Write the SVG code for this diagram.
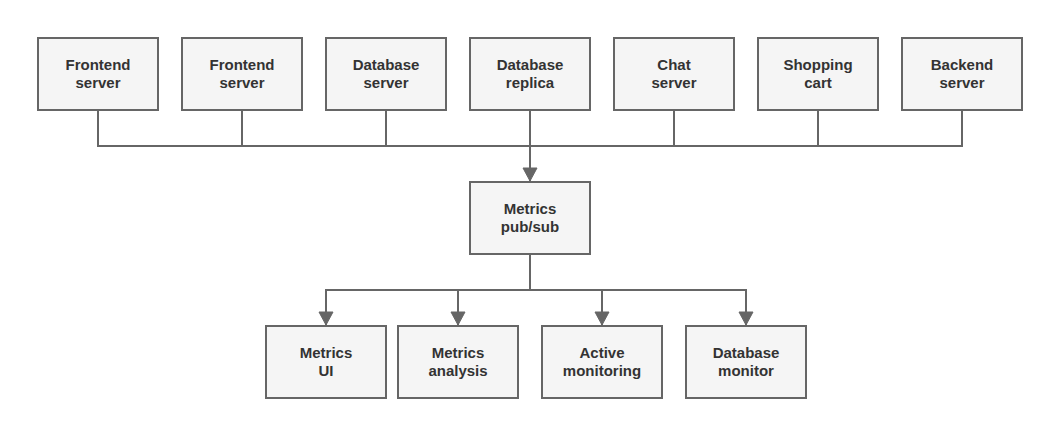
<svg xmlns="http://www.w3.org/2000/svg" width="1059" height="435" viewBox="0 0 1059 435">
<style>
.box{fill:#f5f5f5;stroke:#666666;stroke-width:2}
.lbl{font-family:"Liberation Sans",Arial,sans-serif;font-size:15px;font-weight:bold;fill:#333333;text-anchor:middle}
.conn{fill:none;stroke:#666666;stroke-width:2}
</style>
<defs>
<marker id="arr" markerUnits="userSpaceOnUse" markerWidth="16" markerHeight="16" viewBox="0 0 16 16" refX="15" refY="8" orient="auto">
<path d="M2,1 L15,8 L2,15 Z" fill="#666666" stroke="#666666" stroke-width="1"/>
</marker>
</defs>
<rect width="1059" height="435" fill="#ffffff"/>
<g id="connectors">
<path class="conn" d="M98,110 V146 H962 V110"/>
<path class="conn" d="M242,110 V146"/>
<path class="conn" d="M386,110 V146"/>
<path class="conn" d="M674,110 V146"/>
<path class="conn" d="M818,110 V146"/>
<path class="conn" d="M530,110 V181" marker-end="url(#arr)"/>
<path class="conn" d="M530,254 V290 H326 V325" marker-end="url(#arr)"/>
<path class="conn" d="M530,290 H746 V325" marker-end="url(#arr)"/>
<path class="conn" d="M458,290 V325" marker-end="url(#arr)"/>
<path class="conn" d="M602,290 V325" marker-end="url(#arr)"/>
</g>
<g id="n1"><rect class="box" x="38" y="38" width="120" height="72"/><text class="lbl" x="98" y="70">Frontend</text><text class="lbl" x="98" y="88">server</text></g>
<g id="n2"><rect class="box" x="182" y="38" width="120" height="72"/><text class="lbl" x="242" y="70">Frontend</text><text class="lbl" x="242" y="88">server</text></g>
<g id="n3"><rect class="box" x="326" y="38" width="120" height="72"/><text class="lbl" x="386" y="70">Database</text><text class="lbl" x="386" y="88">server</text></g>
<g id="n4"><rect class="box" x="470" y="38" width="120" height="72"/><text class="lbl" x="530" y="70">Database</text><text class="lbl" x="530" y="88">replica</text></g>
<g id="n5"><rect class="box" x="614" y="38" width="120" height="72"/><text class="lbl" x="674" y="70">Chat</text><text class="lbl" x="674" y="88">server</text></g>
<g id="n6"><rect class="box" x="758" y="38" width="120" height="72"/><text class="lbl" x="818" y="70">Shopping</text><text class="lbl" x="818" y="88">cart</text></g>
<g id="n7"><rect class="box" x="902" y="38" width="120" height="72"/><text class="lbl" x="962" y="70">Backend</text><text class="lbl" x="962" y="88">server</text></g>
<g id="hub"><rect class="box" x="470" y="182" width="120" height="72"/><text class="lbl" x="530" y="214">Metrics</text><text class="lbl" x="530" y="232">pub/sub</text></g>
<g id="c1"><rect class="box" x="266" y="326" width="120" height="72"/><text class="lbl" x="326" y="358">Metrics</text><text class="lbl" x="326" y="376">UI</text></g>
<g id="c2"><rect class="box" x="398" y="326" width="120" height="72"/><text class="lbl" x="458" y="358">Metrics</text><text class="lbl" x="458" y="376">analysis</text></g>
<g id="c3"><rect class="box" x="542" y="326" width="120" height="72"/><text class="lbl" x="602" y="358">Active</text><text class="lbl" x="602" y="376">monitoring</text></g>
<g id="c4"><rect class="box" x="686" y="326" width="120" height="72"/><text class="lbl" x="746" y="358">Database</text><text class="lbl" x="746" y="376">monitor</text></g>
</svg>
